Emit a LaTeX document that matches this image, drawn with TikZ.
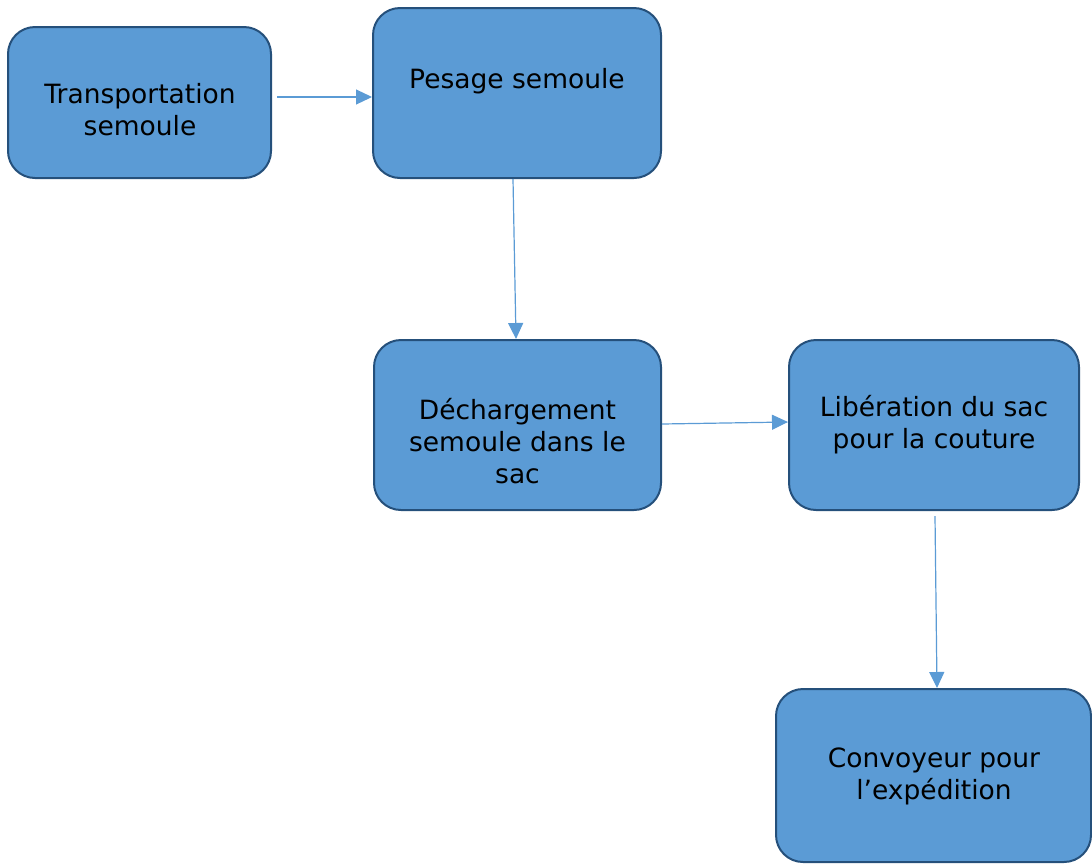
\documentclass[tikz,border=0pt]{standalone}
\usepackage{fontspec}
\setmainfont{DejaVu Sans}
\usetikzlibrary{arrows.meta}
\definecolor{boxfill}{HTML}{5B9BD5}
\definecolor{boxline}{HTML}{25507B}
\definecolor{arrowc}{HTML}{5B9BD5}
\tikzset{
  procbox/.style={draw=boxline, fill=boxfill, line width=2pt, rounded corners=27pt, inner sep=0pt},
  boxtext/.style={align=center, font=\fontsize{26.5}{32}\selectfont, text=black, inner sep=0pt},
  flow/.style={draw=arrowc, line width=1.2pt, -{Triangle[length=16pt,width=15pt]}}
}
\begin{document}
\begin{tikzpicture}[x=1pt,y=-1pt]
\useasboundingbox (0,0) rectangle (1092,863);
\node[procbox, minimum width=263pt, minimum height=151pt] (b1) at (139.5,102.5) {};
\node[procbox, minimum width=288pt, minimum height=170pt] (b2) at (517,93) {};
\node[procbox, minimum width=287pt, minimum height=170pt] (b3) at (517.5,425) {};
\node[procbox, minimum width=290pt, minimum height=170pt] (b4) at (934,425) {};
\node[procbox, minimum width=315pt, minimum height=173pt] (b5) at (933.5,775.5) {};

\node[boxtext] (t1) at (140,110) {Transportation\\semoule};
\node[boxtext] (t2) at (517,81) {Pesage semoule};
\node[boxtext] (t3) at (517.5,441) {Déchargement\\semoule dans le\\sac};
\node[boxtext] (t4) at (934,425) {Libération du sac\\pour la couture};
\node[boxtext] (t5) at (934,776) {Convoyeur pour\\l’expédition};

\coordinate (s1) at ([xshift=5pt,yshift=5.5pt]b1.east);
\draw[flow] (s1) -- (s1 -| b2.west);
\draw[flow] ([xshift=-4pt]b2.south) -- ([xshift=-1.5pt]b3.north);
\draw[flow] ([yshift=1pt]b3.east) -- ([yshift=3pt]b4.west);
\draw[flow] ([xshift=1pt,yshift=-5pt]b4.south) -- ([xshift=3.5pt]b5.north);
\end{tikzpicture}
\end{document}
